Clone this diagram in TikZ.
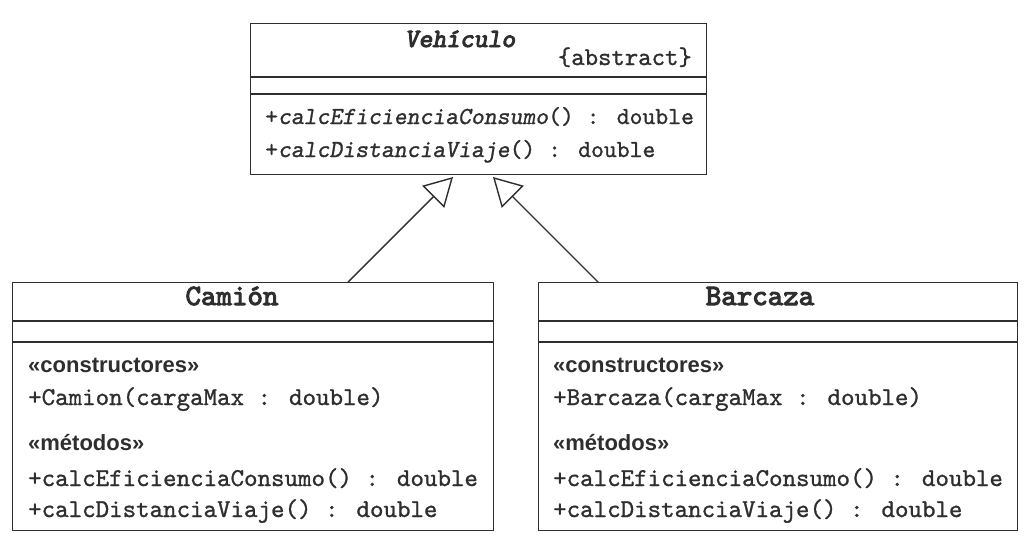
\documentclass[tikz,border=0pt]{standalone}
\usepackage{fontspec}
\setmainfont{Liberation Serif}
\newfontfamily\sansf{Liberation Sans}
\newfontfamily\ttr[FakeBold=1]{lmmono10-regular.otf}
\newfontfamily\ttbf[FakeBold=3.5]{lmmono10-regular.otf}
\newfontfamily\ttbsl[FakeBold=3.5]{lmmonoslant10-regular.otf}
\newfontfamily\ttsl[FakeBold=1]{lmmonoslant10-regular.otf}
\usetikzlibrary{arrows.meta}
\definecolor{ink}{HTML}{2E2E2E}
\tikzset{
  cls/.style={draw=ink, line width=1.4pt, rectangle, inner sep=0pt, anchor=north west},
  divider/.style={draw=ink, line width=1.4pt},
  mtxt/.style={inner sep=0pt, anchor=base west, text=ink, font=\ttr\fontsize{25.7}{30}\selectfont},
  mtxtsm/.style={inner sep=0pt, anchor=base west, text=ink, font=\ttr\fontsize{24.5}{30}\selectfont},
  stereo/.style={inner sep=0pt, anchor=base west, text=ink, font=\sansf\bfseries\fontsize{22}{26}\selectfont},
  ttl/.style={inner sep=0pt, anchor=base, text=ink, font=\ttbf\fontsize{29.5}{34}\selectfont},
  gen/.style={draw=ink, line width=1.4pt, -{Triangle[open, length=28pt, width=31pt, line width=1.4pt]}}
}
\begin{document}
\begin{tikzpicture}[x=1pt, y=-1pt]
  \useasboundingbox[fill=white] (0,0) rectangle (1024,539);

  % Vehiculo
  \node[cls, minimum width=456pt, minimum height=151pt] (veh) at (250,23) {};
  \draw[divider] (veh.west |- 0,77) -- (veh.east |- 0,77);
  \draw[divider] (veh.west |- 0,94) -- (veh.east |- 0,94);
  \node[ttl, font=\ttbsl\fontsize{26.3}{30}\selectfont] (vehT) at (460,47) {Vehículo};
  \node[inner sep=0pt, anchor=base east, text=ink, font=\ttr\fontsize{25.5}{30}\selectfont] (vehAbs) at (692,65) {\{abstract\}};
  \node[mtxtsm] (vehM1) at (265,124) {+{\ttsl calcEficienciaConsumo}() : double};
  \node[mtxtsm] (vehM2) at (265,157) {+{\ttsl calcDistanciaViaje}() : double};

  % Camion
  \node[cls, minimum width=481pt, minimum height=248pt] (cam) at (12,282) {};
  \draw[divider] (cam.west |- 0,321) -- (cam.east |- 0,321);
  \draw[divider] (cam.west |- 0,342) -- (cam.east |- 0,342);
  \node[ttl] (camT) at (232,305) {Camión};
  \node[stereo] (camS1) at (28,372) {«constructores»};
  \node[mtxt] (camC) at (28,405) {+Camion(cargaMax : double)};
  \node[stereo] (camS2) at (28,450) {«métodos»};
  \node[mtxt] (camM1) at (28,486) {+calcEficienciaConsumo() : double};
  \node[mtxt] (camM2) at (28,517) {+calcDistanciaViaje() : double};

  % Barcaza
  \node[cls, minimum width=479pt, minimum height=248pt] (bar) at (538,282) {};
  \draw[divider] (bar.west |- 0,321) -- (bar.east |- 0,321);
  \draw[divider] (bar.west |- 0,342) -- (bar.east |- 0,342);
  \node[ttl] (barT) at (760,305) {Barcaza};
  \node[stereo] (barS1) at (553,372) {«constructores»};
  \node[mtxt] (barC) at (553,405) {+Barcaza(cargaMax : double)};
  \node[stereo] (barS2) at (553,450) {«métodos»};
  \node[mtxt] (barM1) at (553,486) {+calcEficienciaConsumo() : double};
  \node[mtxt] (barM2) at (553,517) {+calcDistanciaViaje() : double};

  % generalisations
  \coordinate (camTop) at (348,282);
  \coordinate (barTop) at (598,282);
  \coordinate (tipL) at (453,177);
  \coordinate (tipR) at (493,177);
  \draw[gen] (camTop) -- (tipL);
  \draw[gen] (barTop) -- (tipR);
\end{tikzpicture}
\end{document}
